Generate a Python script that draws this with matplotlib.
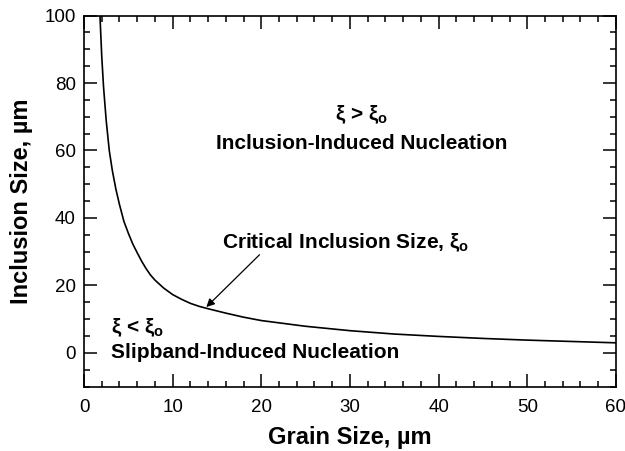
import matplotlib
matplotlib.use("Agg")
import matplotlib.pyplot as plt
from matplotlib.ticker import MultipleLocator

plt.rcParams['font.family'] = ['Liberation Sans', 'DejaVu Sans']
plt.rcParams['mathtext.default'] = 'regular'

# critical inclusion size curve
grain_size = [1.8, 2.0, 2.2, 2.5, 2.85, 3.2, 3.6, 4.0, 4.5, 5.0, 5.5, 6.0, 6.5, 7.0,
              7.5, 8.0, 9.0, 10.0, 11.0, 12.0, 13.0, 14.0, 16.0, 18.0, 20.0, 25.0,
              30.0, 35.0, 40.0, 45.0, 50.0, 55.0, 60.0]
inclusion_size = [100, 88, 79, 69, 60, 54, 48.5, 44, 39, 35.5, 32.3, 29.7, 27.2, 25.0,
                  23.1, 21.6, 19.2, 17.3, 15.9, 14.7, 13.8, 13.1, 11.8, 10.6, 9.6, 7.9,
                  6.6, 5.6, 4.9, 4.3, 3.8, 3.4, 3.0]

fig = plt.figure(figsize=(6.25, 4.51), dpi=100)
ax = fig.add_axes([0.1344, 0.1426, 0.851, 0.823])

ax.plot(grain_size, inclusion_size, color='black', lw=1.2)

ax.set_xlim(0, 60)
ax.set_ylim(-10, 100)
ax.xaxis.set_major_locator(MultipleLocator(10))
ax.xaxis.set_minor_locator(MultipleLocator(2))
ax.yaxis.set_major_locator(MultipleLocator(20))
ax.yaxis.set_minor_locator(MultipleLocator(5))
ax.tick_params(which='both', direction='in', top=True, right=True, width=1.1)
ax.tick_params(which='major', length=9.5, labelsize=13.5, pad=6)
ax.tick_params(axis='x', which='major', pad=9)
ax.tick_params(which='minor', length=4.5)
for s in ax.spines.values():
    s.set_linewidth(1.2)

ax.set_xlabel('Grain Size, µm', fontsize=17, fontweight='bold', labelpad=7)
ax.set_ylabel('Inclusion Size, µm', fontsize=17, fontweight='bold', labelpad=8)

tkw = dict(fontsize=15, fontweight='bold')
ax.text(31.3, 70.5, r'ξ > ξ$_o$', ha='center', va='center', **tkw)
ax.text(31.3, 62, 'Inclusion-Induced Nucleation', ha='center', va='center', **tkw)
ax.text(15.6, 32.7, r'Critical Inclusion Size, ξ$_o$', ha='left', va='center', **tkw)
ax.text(3.0, 7.4, r'ξ < ξ$_o$', ha='left', va='center', **tkw)
ax.text(3.0, 0, 'Slipband-Induced Nucleation', ha='left', va='center', **tkw)

ax.annotate('', xy=(13.8, 13.6), xytext=(19.8, 29.1),
            arrowprops=dict(arrowstyle='-|>', color='black', lw=0.9,
                            mutation_scale=12, shrinkA=0, shrinkB=0))

fig.savefig('out.png', dpi=100)
